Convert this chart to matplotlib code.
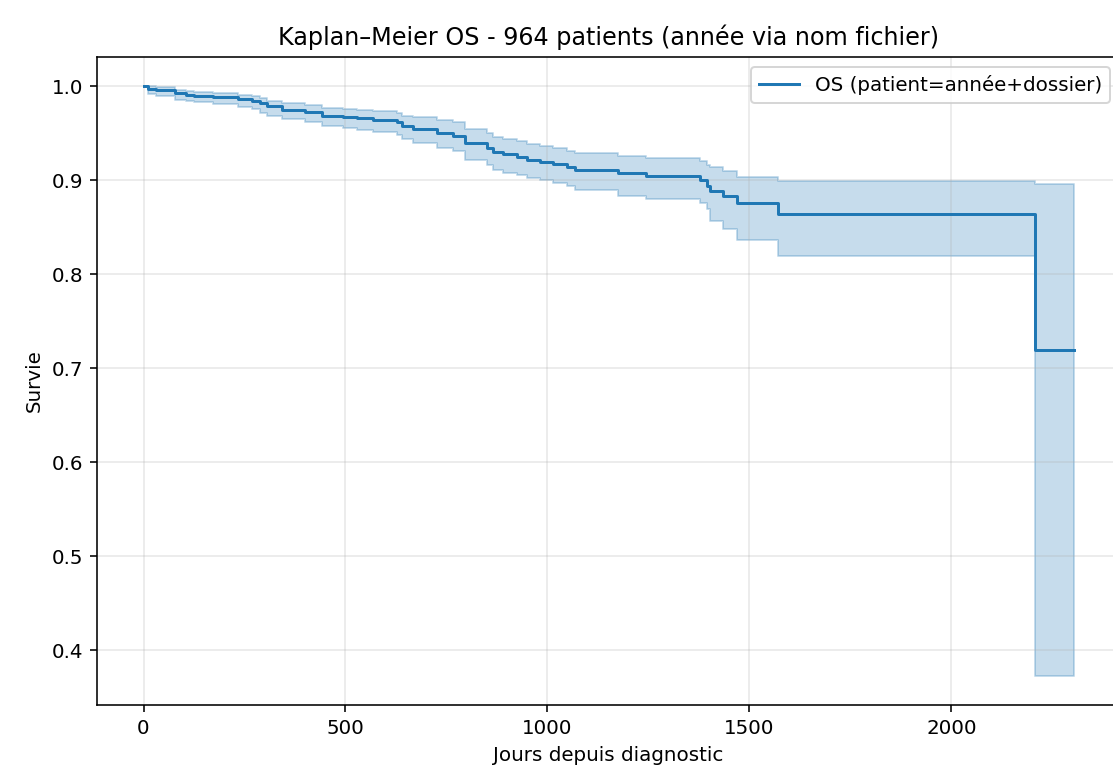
import numpy as np
import matplotlib
matplotlib.use("Agg")
import matplotlib.pyplot as plt

# step times (days) and Kaplan-Meier estimate with 95% CI
times = [0, 12, 30, 77, 104, 124, 171, 235, 269, 289, 306, 344, 400, 442,
         495, 528, 569, 627, 640, 668, 726, 767, 796, 850, 866, 890, 924,
         949, 981, 1014, 1048, 1068, 1175, 1245, 1377, 1394, 1402, 1434,
         1468, 1570, 2207, 2302]
survie = [1.000, 0.9975, 0.996, 0.993, 0.991, 0.990, 0.9887, 0.9866, 0.985,
          0.982, 0.979, 0.975, 0.9728, 0.969, 0.9675, 0.966, 0.9647, 0.9618,
          0.958, 0.9547, 0.950, 0.9477, 0.940, 0.9346, 0.930, 0.9276, 0.925,
          0.922, 0.9194, 0.917, 0.9145, 0.911, 0.9074, 0.9046, 0.900, 0.894,
          0.889, 0.8834, 0.876, 0.8645, 0.720, 0.720]
ci_bas = [1.000, 0.992, 0.990, 0.986, 0.984, 0.983, 0.981, 0.978, 0.976,
          0.972, 0.969, 0.965, 0.962, 0.958, 0.956, 0.954, 0.951, 0.948,
          0.944, 0.940, 0.934, 0.931, 0.922, 0.916, 0.911, 0.908, 0.906,
          0.903, 0.900, 0.897, 0.894, 0.890, 0.8834, 0.880, 0.876, 0.870,
          0.857, 0.848, 0.837, 0.8197, 0.373, 0.373]
ci_haut = [1.000, 1.000, 0.999, 0.996, 0.995, 0.994, 0.993, 0.991, 0.990,
           0.988, 0.985, 0.982, 0.980, 0.977, 0.976, 0.975, 0.974, 0.972,
           0.969, 0.967, 0.964, 0.962, 0.955, 0.950, 0.946, 0.944, 0.942,
           0.939, 0.937, 0.934, 0.931, 0.929, 0.926, 0.924, 0.921, 0.916,
           0.914, 0.910, 0.9035, 0.899, 0.896, 0.896]

DPI = 143
fig = plt.figure(figsize=(1113/DPI, 769/DPI), dpi=DPI)
# axes run slightly past the right border (picture was cropped)
ax = fig.add_axes([97/1113, 64/769, 1023/1113, 648/769])

ax.fill_between(times, ci_bas, ci_haut, step='post', alpha=0.25, color='C0')
ax.step(times, survie, where='post', color='C0', linewidth=1.5,
        label='OS (patient=année+dossier)')

ax.spines['right'].set_visible(False)
ax.grid(True, alpha=0.3)
ax.set_title('Kaplan–Meier OS - 964 patients (année via nom fichier)')
ax.set_xlabel('Jours depuis diagnostic')
ax.set_ylabel('Survie')
ax.set_xticks([0, 500, 1000, 1500, 2000])
ax.legend(loc='upper right')

fig.savefig('out.png', dpi=DPI)
